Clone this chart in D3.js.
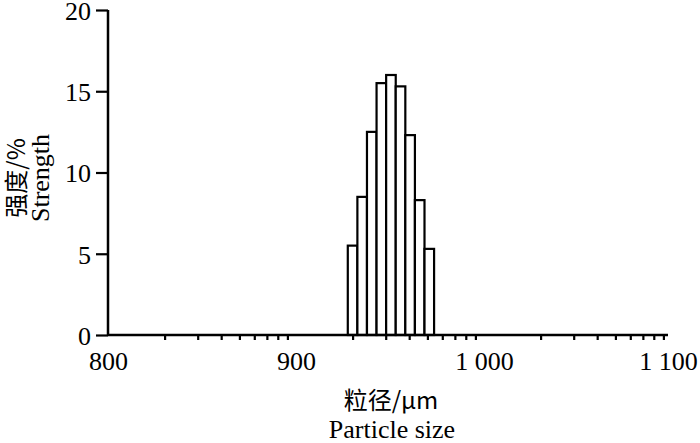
<!DOCTYPE html>
<html>
<head>
<meta charset="utf-8">
<script src="https://cdn.jsdelivr.net/npm/d3@7"></script>
<style>
  body { margin: 0; background: #fff; }
  text { font-family: "Liberation Serif", "Times New Roman", Times, serif; fill: #000; }
  text.cjk { font-family: "Noto Sans CJK SC", sans-serif; }
</style>
</head>
<body>
<div id="chart"></div>
<script>
// particle size bins (centre, µm) and strength (%)
const sizes = [930.1, 935.2, 940.3, 945.4, 950.5, 955.6, 960.7, 965.8, 970.9];
const strength = [5.5, 8.5, 12.5, 15.5, 16.0, 15.3, 12.3, 8.3, 5.3];

const xMajor = [800, 900, 1000, 1100];
const xLabels = ["800", "900", "1 000", "1 100"];
const yTicks = [0, 5, 10, 15, 20];

const width = 700, height = 443;

const svg = d3.select("#chart").append("svg")
    .attr("width", width)
    .attr("height", height);

const x = d3.scaleLinear().domain([800, 1100]).range([108, 672]);
const y = d3.scaleLinear().domain([0, 20]).range([335, 10]);

// minor ticks follow a log pattern inside each 100 µm segment
let minor = [];
d3.pairs(xMajor).forEach(function ([a, b]) {
    const lg = d3.scaleLog().domain([1, 10]).range([a, b]);
    lg.ticks().filter(t => t > 1 && t < 10).forEach(t => minor.push(lg(t)));
});

const binW = sizes[1] - sizes[0];

// bars
svg.append("g").selectAll("rect")
    .data(sizes)
    .enter().append("rect")
    .attr("x", d => x(d - binW / 2))
    .attr("y", (d, i) => y(strength[i]))
    .attr("width", x(sizes[0] + binW) - x(sizes[0]))
    .attr("height", (d, i) => y(0) - y(strength[i]))
    .attr("fill", "#fff")
    .attr("stroke", "#000")
    .attr("stroke-width", 2.2);

// x axis: minor ticks only, labels at majors
const gx = svg.append("g").attr("transform", "translate(0," + y(0) + ")");
gx.call(d3.axisBottom(x).tickValues(minor).tickSize(5).tickFormat(""))
    .call(g => g.selectAll("line").attr("stroke-width", 2.2))
    .call(g => g.select(".domain").attr("stroke-width", 2.5)
        .attr("d", "M" + x(800) + ",0H" + (x(1100) - 4)));

svg.append("g").attr("transform", "translate(0," + y(0) + ")")
    .call(d3.axisBottom(x).tickValues(xMajor).tickSize(0)
        .tickFormat((d, i) => xLabels[i]).tickPadding(17))
    .call(g => g.select(".domain").remove())
    .call(g => g.selectAll("text").attr("font-size", 26)
        .attr("dx", d => d === 1100 ? -4 : 0));

// y axis
svg.append("g").attr("transform", "translate(" + x(800) + ",0)")
    .call(d3.axisLeft(y).tickValues(yTicks).tickSize(12).tickPadding(5))
    .call(g => g.select(".domain").attr("stroke-width", 2.5)
        .attr("d", "M0," + y(0) + "V" + y(20)))
    .call(g => g.selectAll("line").attr("stroke-width", 2.2))
    .call(g => g.selectAll("text").attr("font-size", 26).attr("dy", "0.36em"));

// axis titles
const yt = svg.append("g").attr("transform", "translate(0,178) rotate(-90)");
yt.append("text").attr("class", "cjk").attr("y", 25)
    .attr("text-anchor", "middle").attr("font-size", 24).text("强度/%");
yt.append("text").attr("y", 49)
    .attr("text-anchor", "middle").attr("font-size", 26).text("Strength");

svg.append("text").attr("class", "cjk").attr("x", 391).attr("y", 409)
    .attr("text-anchor", "middle").attr("font-size", 24).text("粒径/μm");
svg.append("text").attr("x", 392).attr("y", 438)
    .attr("text-anchor", "middle").attr("font-size", 26).text("Particle size");
</script>
</body>
</html>
